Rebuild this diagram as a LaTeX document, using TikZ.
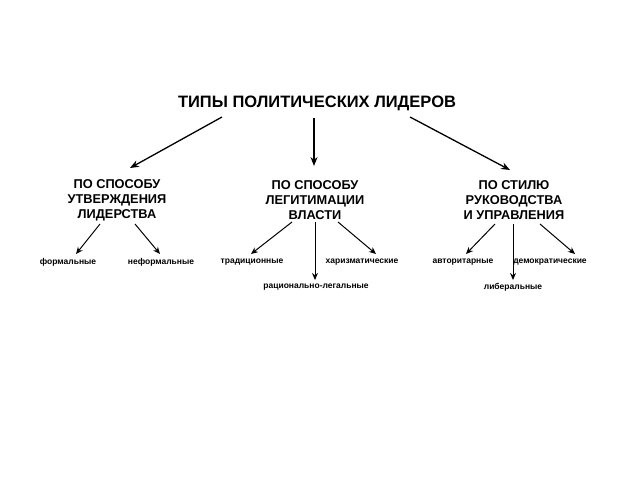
\documentclass[tikz,border=0pt]{standalone}
\usepackage{fontspec}
\setmainfont{Liberation Sans}
\usetikzlibrary{arrows.meta}
\begin{document}
\begin{tikzpicture}[x=1pt,y=-1pt,
  title/.style={font=\fontsize{16.5}{18}\selectfont\bfseries,inner sep=1pt},
  head/.style={font=\fontsize{12.8}{15}\selectfont\bfseries,align=center,inner sep=1pt},
  leaf/.style={font=\fontsize{8.5}{10}\selectfont\bfseries,inner sep=1pt},
  big/.style={line width=1.3pt,-{Stealth[length=9pt,width=7pt]}},
  small/.style={line width=1pt,-{Stealth[length=7pt,width=6pt]}}]
\useasboundingbox[fill=white] (0,0) rectangle (640,480);
\node[title] (t) at (317,103) {ТИПЫ ПОЛИТИЧЕСКИХ ЛИДЕРОВ};
\node[head] (a) at (117,200) {ПО СПОСОБУ\\УТВЕРЖДЕНИЯ\\ЛИДЕРСТВА};
\node[head] (b) at (315,200) {ПО СПОСОБУ\\ЛЕГИТИМАЦИИ\\ВЛАСТИ};
\node[head] (c) at (514,200) {ПО СТИЛЮ\\РУКОВОДСТВА\\И УПРАВЛЕНИЯ};
\node[leaf] (a1) at (68,262) {формальные};
\node[leaf] (a2) at (161,262) {неформальные};
\node[leaf] (b1) at (252,262) {традиционные};
\node[leaf] (b2) at (362,262) {харизматические};
\node[leaf] (b3) at (316,287) {рационально-легальные};
\node[leaf] (c1) at (463,262) {авторитарные};
\node[leaf] (c2) at (550,262) {демократические};
\node[leaf] (c3) at (513,287) {либеральные};
\coordinate (ts1) at (222,117); \coordinate (te1) at (130,168);
\coordinate (ts2) at (314,118); \coordinate (te2) at (314,166);
\coordinate (ts3) at (410,117); \coordinate (te3) at (510,170);
\draw[big] (ts1) -- (te1);
\draw[big] (ts2) -- (te2);
\draw[big] (ts3) -- (te3);
\draw[small] (100,224) -- (76,254);
\draw[small] (135,224) -- (160,254);
\draw[small] (292,222) -- (251,254);
\draw[small] (315,222) -- (315,280);
\draw[small] (338,222) -- (376,254);
\draw[small] (495,224) -- (466,254);
\draw[small] (513,224) -- (513,280);
\draw[small] (540,224) -- (575,254);
\end{tikzpicture}
\end{document}
